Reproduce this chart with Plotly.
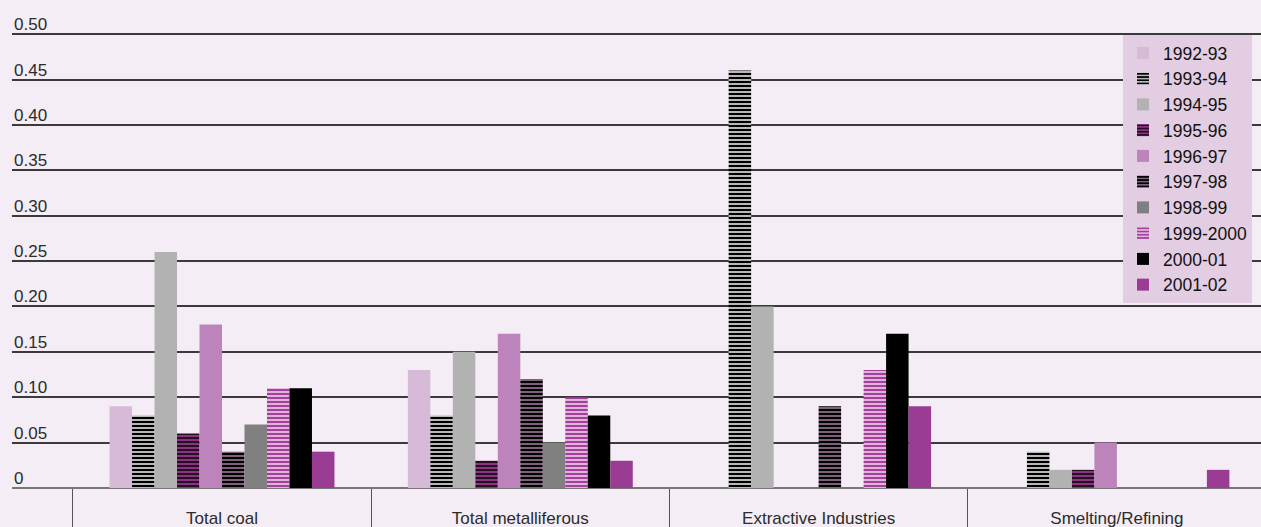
import plotly.graph_objects as go

# Sector categories along the x axis
categories = ["Total coal", "Total metalliferous", "Extractive Industries", "Smelting/Refining"]

# Rates by financial year, one list per year (order follows categories)
y1992_93 = [0.09, 0.13, 0.0, 0.0]
y1993_94 = [0.08, 0.08, 0.46, 0.04]
y1994_95 = [0.26, 0.15, 0.20, 0.02]
y1995_96 = [0.06, 0.03, 0.0, 0.02]
y1996_97 = [0.18, 0.17, 0.0, 0.05]
y1997_98 = [0.04, 0.12, 0.09, 0.0]
y1998_99 = [0.07, 0.05, 0.0, 0.0]
y1999_2000 = [0.11, 0.10, 0.13, 0.0]
y2000_01 = [0.11, 0.08, 0.17, 0.0]
y2001_02 = [0.04, 0.03, 0.09, 0.02]

years = ["1992-93", "1993-94", "1994-95", "1995-96", "1996-97",
         "1997-98", "1998-99", "1999-2000", "2000-01", "2001-02"]
series = [y1992_93, y1993_94, y1994_95, y1995_96, y1996_97,
          y1997_98, y1998_99, y1999_2000, y2000_01, y2001_02]

y_ticks = [0, 0.05, 0.10, 0.15, 0.20, 0.25, 0.30, 0.35, 0.40, 0.45, 0.50]
y_tick_text = ["0", "0.05", "0.10", "0.15", "0.20", "0.25", "0.30", "0.35", "0.40", "0.45", "0.50"]

# Fill style per year: (background colour, stripe colour or None, stripe solidity)
styles = [
    ("#d7b9d8", None, 0),
    ("#b8b8b8", "#000000", 0.5),
    ("#b2b2b2", None, 0),
    ("#8c3282", "#1a0a18", 0.45),
    ("#bd84bb", None, 0),
    ("#8c6a8a", "#000000", 0.55),
    ("#808080", None, 0),
    ("#f2d6ef", "#a4409c", 0.62),
    ("#000000", None, 0),
    ("#9a3b94", None, 0),
]

BG = "#f4edf5"
FONT = "Liberation Sans, Arial, sans-serif"
TEXT = "#2b2b2b"

fig = go.Figure()
for name, vals, (base, stripe, solid) in zip(years, series, styles):
    marker = dict(color=base, line=dict(width=0))
    if stripe is not None:
        marker["pattern"] = dict(shape="-", fgcolor=stripe, bgcolor=base,
                                 size=4, solidity=solid, fillmode="replace")
    fig.add_trace(go.Bar(x=categories, y=vals, name=name, marker=marker,
                         legendgroup=name))

# Empty trace on a linear overlay axis that carries the category boundary ticks
fig.add_trace(go.Scatter(x=[None], y=[None], xaxis="x2", showlegend=False,
                         hoverinfo="skip"))

# Value labels sit just above their gridline at the left edge of the plot
for val, label in zip(y_ticks, y_tick_text):
    fig.add_annotation(x=0, xref="paper", xanchor="left",
                       y=val, yref="y", yanchor="bottom", yshift=-2,
                       text=label, showarrow=False,
                       font=dict(family=FONT, size=17, color=TEXT))

x_range = [-0.704, 3.483]

fig.update_layout(
    width=1261,
    height=527,
    margin=dict(l=12, r=0, t=16, b=39),
    paper_bgcolor=BG,
    plot_bgcolor=BG,
    barmode="group",
    bargap=0.246,
    bargroupgap=0,
    font=dict(family=FONT, size=17, color=TEXT),
    xaxis=dict(
        type="category",
        range=x_range,
        showgrid=False,
        showline=False,
        zeroline=False,
        ticks="",
        tickfont=dict(size=17, color=TEXT),
        ticklabelstandoff=18,
    ),
    xaxis2=dict(
        overlaying="x",
        anchor="y",
        side="bottom",
        range=x_range,
        tickvals=[-0.5, 0.5, 1.5, 2.5, 3.5],
        ticks="outside",
        ticklen=40,
        tickwidth=1.2,
        tickcolor="#555555",
        showticklabels=False,
        showgrid=False,
        zeroline=False,
        showline=False,
    ),
    yaxis=dict(
        range=[0, 0.52],
        tickvals=y_ticks,
        showticklabels=False,
        ticks="",
        showgrid=True,
        gridcolor="#3a3a3a",
        gridwidth=1.5,
        zeroline=True,
        zerolinecolor="#777777",
        zerolinewidth=2,
        showline=False,
    ),
    legend=dict(
        x=0.8895,
        y=0.9597,
        xanchor="left",
        yanchor="top",
        bgcolor="#e3cde3",
        borderwidth=0,
        font=dict(size=17.5, color="#111111"),
        traceorder="normal",
        tracegroupgap=0.5,
        itemclick=False,
    ),
    showlegend=True,
)

fig.write_html("out.html")
